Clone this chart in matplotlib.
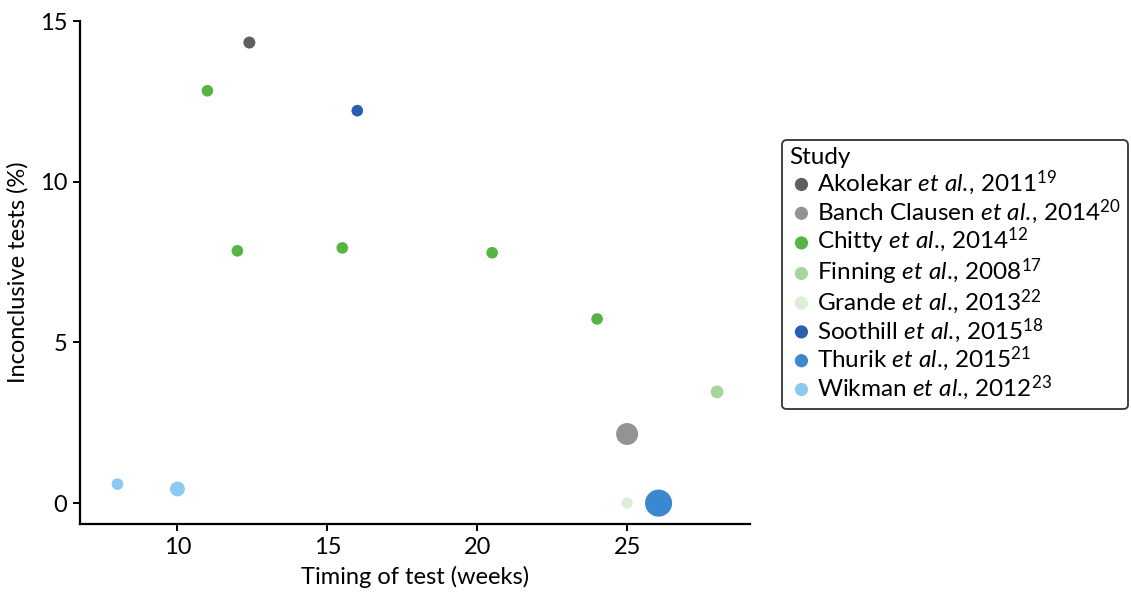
import matplotlib.pyplot as plt

# === DATA ===
studies = [
    "Akolekar", "Banch Clausen", "Chitty", "Finning",
    "Grande", "Soothill", "Thurik", "Wikman",
]
years = [2011, 2014, 2014, 2008, 2013, 2015, 2015, 2012]
refs = [19, 20, 12, 17, 22, 18, 21, 23]
colors = ["#5f5f5f", "#939393", "#55b443", "#a6d69b",
          "#dcefd6", "#2b5eb1", "#3b87d0", "#8ccaef"]

# timing (weeks), inconclusive (%), marker size for each study
timing = {
    "Akolekar": [12.4],
    "Banch Clausen": [25.0],
    "Chitty": [11.0, 12.0, 15.5, 20.5, 24.0],
    "Finning": [28.0],
    "Grande": [25.0],
    "Soothill": [16.0],
    "Thurik": [26.05],
    "Wikman": [8.0, 10.0],
}
inconclusive = {
    "Akolekar": [14.33],
    "Banch Clausen": [2.15],
    "Chitty": [12.83, 7.85, 7.94, 7.79, 5.73],
    "Finning": [3.46],
    "Grande": [0.0],
    "Soothill": [12.21],
    "Thurik": [0.0],
    "Wikman": [0.59, 0.44],
}
sizes = {
    "Akolekar": [75],
    "Banch Clausen": [250],
    "Chitty": [70, 70, 70, 70, 70],
    "Finning": [85],
    "Grande": [65],
    "Soothill": [70],
    "Thurik": [380],
    "Wikman": [70, 115],
}

FONT = "Lato"
plt.rcParams["font.family"] = [FONT, "DejaVu Sans"]
plt.rcParams["mathtext.fontset"] = "custom"
plt.rcParams["mathtext.rm"] = FONT
plt.rcParams["mathtext.it"] = FONT + ":italic"

FS = 17
LEG_FS = 17.5

fig = plt.figure(figsize=(11.31, 5.96), dpi=100)
ax = fig.add_axes([80 / 1131, 72 / 596, 670 / 1131, 503 / 596])

for name, yr, ref, col in zip(studies, years, refs, colors):
    label = (r"$\mathrm{" + name.replace(" ", r"\ ") + r"}\ \mathit{et\ al.}\!{,}\ \mathrm{"
             + str(yr) + r"}^{" + str(ref) + "}$")
    ax.scatter(timing[name], inconclusive[name], s=sizes[name], color=col,
               edgecolors="none", label=label, zorder=3)

ax.set_xlim(6.75, 29.1)
ax.set_ylim(-0.65, 15)
ax.set_xticks([10, 15, 20, 25])
ax.set_yticks([0, 5, 10, 15])
ax.spines["top"].set_visible(False)
ax.spines["right"].set_visible(False)
for sp in ("left", "bottom"):
    ax.spines[sp].set_linewidth(1.6)
ax.tick_params(width=1.4, length=5, labelsize=FS, colors="black", pad=4)
ax.set_xlabel("Timing of test (weeks)", fontsize=FS, labelpad=6)
ax.set_ylabel("Inconclusive tests (%)", fontsize=FS, labelpad=8)

handles, labels = ax.get_legend_handles_labels()
leg = fig.legend(handles, labels, title="Study", loc="upper left",
                 bbox_to_anchor=(782 / 1131, 1 - 140 / 596),
                 fontsize=LEG_FS, title_fontsize=LEG_FS, frameon=True, fancybox=True,
                 handletextpad=0.15, labelspacing=0.0, borderpad=0.3,
                 borderaxespad=0, handlelength=1.0, alignment="left")
for h in leg.legend_handles:
    h.set_sizes([90])
leg.get_frame().set_edgecolor("black")
leg.get_frame().set_linewidth(1.3)

plt.savefig("out.png", dpi=100)
